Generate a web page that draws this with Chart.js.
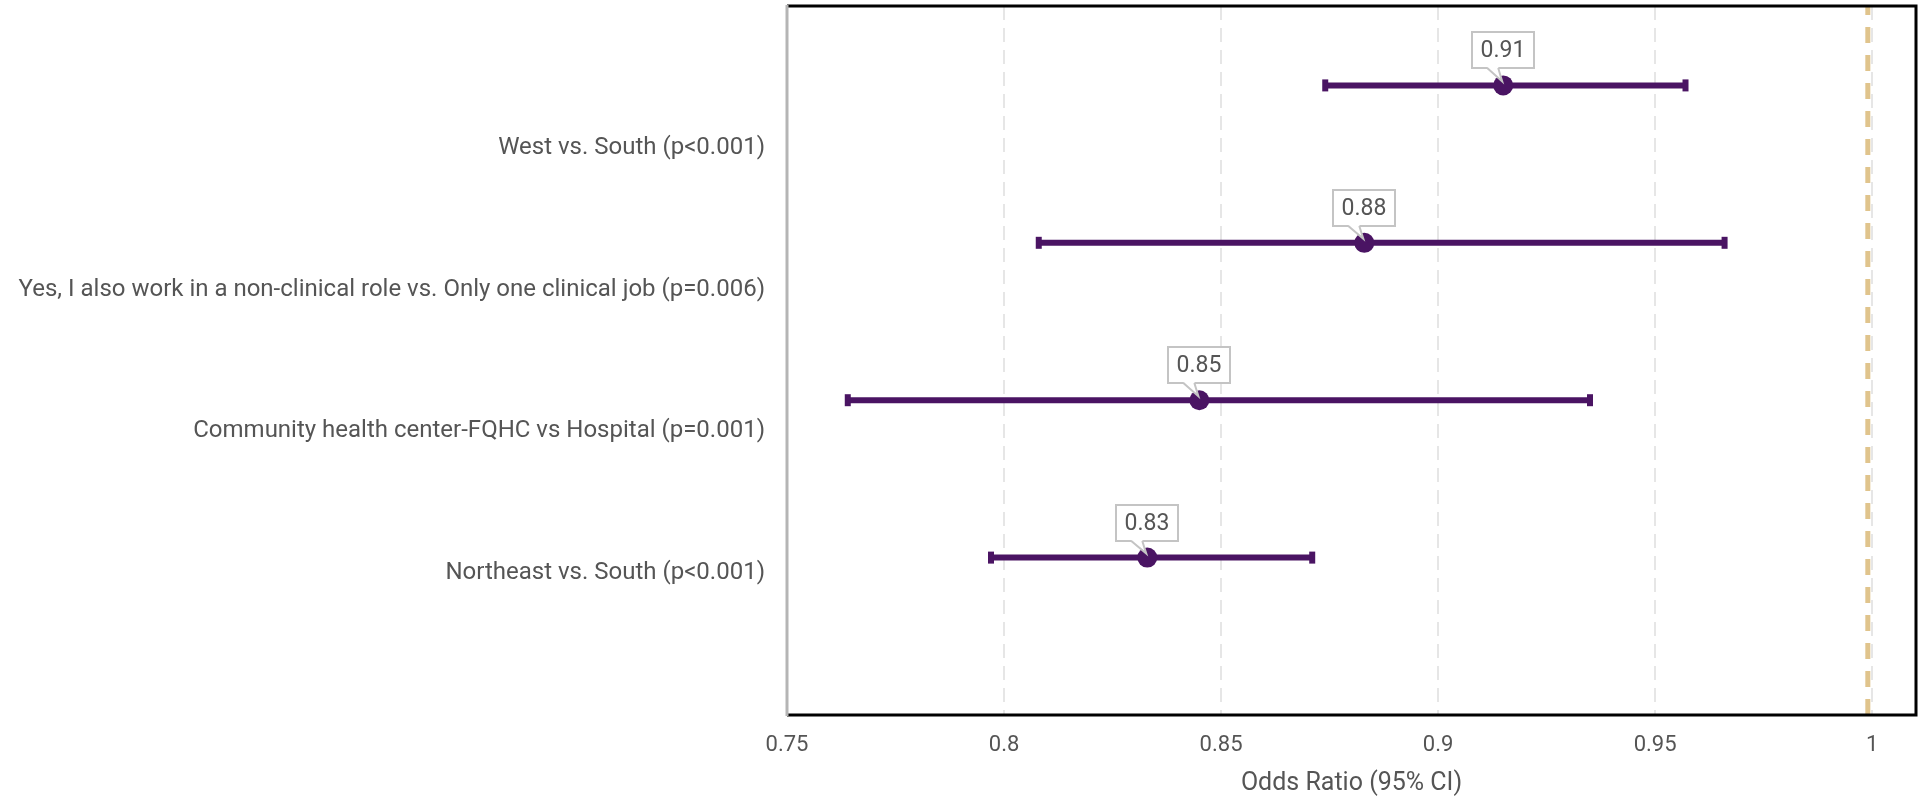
<!DOCTYPE html>
<html>
<head>
<meta charset="utf-8">
<script src="https://cdn.jsdelivr.net/npm/chart.js@4.4.1/dist/chart.umd.min.js"></script>
<style>
    html, body { margin: 0; padding: 0; background: #fff; }
    #wrap { width: 1921px; height: 799px; }
</style>
</head>
<body>
<div id="wrap"><canvas id="forestChart" width="1921" height="799"></canvas></div>
<script>
// rows, top to bottom
const categories = [
    'West vs. South (p<0.001)',
    'Yes, I also work in a non-clinical role vs. Only one clinical job (p=0.006)',
    'Community health center-FQHC vs Hospital (p=0.001)',
    'Northeast vs. South (p<0.001)'
];
const estimates = [0.915, 0.883, 0.845, 0.833];
const lowerCI = [0.874, 0.808, 0.764, 0.797];
const upperCI = [0.957, 0.966, 0.935, 0.871];
const estimateLabels = ['0.91', '0.88', '0.85', '0.83'];
// where the category labels sit and where each row's marks sit on the y scale
const labelPos = [4, 3, 2, 1];
const rowPos = [4.44, 3.33, 2.22, 1.11];
const xTicks = [0.75, 0.8, 0.85, 0.9, 0.95, 1];
const refValue = 0.999;

const purple = '#4a1463';
const textGrey = '#555555';

document.addEventListener('DOMContentLoaded', function() {
    // black panel frame, grey y-axis line on the left
    const framePlugin = {
        id: 'panelFrame',
        afterDatasetsDraw(chart) {
            const ctx = chart.ctx, a = chart.chartArea;
            ctx.save();
            ctx.strokeStyle = '#000';
            ctx.lineWidth = 3;
            ctx.beginPath();
            ctx.moveTo(a.left, a.top);
            ctx.lineTo(a.right, a.top);
            ctx.lineTo(a.right, a.bottom);
            ctx.lineTo(a.left, a.bottom);
            ctx.stroke();
            ctx.strokeStyle = '#b5b5b5';
            ctx.beginPath();
            ctx.moveTo(a.left, a.top - 1);
            ctx.lineTo(a.left, a.bottom + 1);
            ctx.stroke();
            ctx.restore();
        }
    };

    // value callouts above each estimate
    const calloutPlugin = {
        id: 'estimateCallouts',
        afterDraw(chart) {
            const ctx = chart.ctx, xs = chart.scales.x, ys = chart.scales.y;
            ctx.save();
            ctx.font = '23px Roboto';
            estimates.forEach(function(est, i) {
                const px = xs.getPixelForValue(est);
                const py = ys.getPixelForValue(rowPos[i]);
                const text = estimateLabels[i];
                const w = Math.round(ctx.measureText(text).width + 17);
                const h = 36;
                const left = Math.round(px - w / 2);
                const bottom = Math.round(py - 17);
                const top = bottom - h;
                ctx.fillStyle = '#fff';
                ctx.strokeStyle = '#c4c4c4';
                ctx.lineWidth = 2;
                ctx.beginPath();
                ctx.rect(left, top, w, h);
                ctx.fill();
                ctx.stroke();
                // tail
                ctx.beginPath();
                ctx.moveTo(px - 16, bottom - 1);
                ctx.lineTo(px - 1, py - 4);
                ctx.lineTo(px - 5, bottom - 1);
                ctx.closePath();
                ctx.fill();
                ctx.beginPath();
                ctx.moveTo(px - 16, bottom);
                ctx.lineTo(px - 1, py - 4);
                ctx.lineTo(px - 5, bottom);
                ctx.stroke();
                ctx.fillStyle = textGrey;
                ctx.textAlign = 'center';
                ctx.textBaseline = 'middle';
                ctx.fillText(text, left + w / 2, top + h / 2 + 1);
            });
            ctx.restore();
        }
    };

    const ciSets = categories.map(function(cat, i) {
        return {
            label: cat,
            data: [{x: lowerCI[i], y: rowPos[i]}, {x: upperCI[i], y: rowPos[i]}],
            showLine: true,
            borderColor: purple,
            borderWidth: 6,
            pointStyle: 'line',
            rotation: 90,
            pointRadius: 6,
            pointBorderWidth: 6,
            pointBorderColor: purple,
            order: 1
        };
    });

    const ctx = document.getElementById('forestChart');
    new Chart(ctx, {
        type: 'scatter',
        data: {
            datasets: [{
                label: 'Odds Ratio',
                data: estimates.map(function(v, i) { return {x: v, y: rowPos[i]}; }),
                backgroundColor: purple,
                borderColor: purple,
                borderWidth: 0,
                pointRadius: 10,
                order: 0
            }].concat(ciSets, [{
                label: 'Reference',
                data: [{x: refValue, y: 0}, {x: refValue, y: 5}],
                showLine: true,
                borderColor: '#e0c48c',
                borderWidth: 5,
                borderDash: [16, 12],
                pointRadius: 0,
                order: 2
            }])
        },
        options: {
            responsive: false,
            animation: false,
            layout: { autoPadding: false, padding: { top: 6, right: 5, left: 0, bottom: 0 } },
            plugins: {
                legend: { display: false },
                tooltip: { enabled: false }
            },
            scales: {
                x: {
                    type: 'linear',
                    min: 0.75,
                    max: 1.0101,
                    afterBuildTicks: function(s) { s.ticks = xTicks.map(function(v) { return {value: v}; }); },
                    afterFit: function(s) {
                        s.height = 84;
                        s.paddingLeft = 0;
                        s.paddingRight = 0;
                    },
                    grid: { color: '#e6e6e6', lineWidth: 2, drawTicks: false },
                    border: { display: false, dash: [14, 8] },
                    ticks: {
                        padding: 17,
                        color: textGrey,
                        font: { family: 'Roboto', size: 22 },
                        callback: function(v) { return String(+v.toFixed(2)); }
                    },
                    title: {
                        display: true,
                        text: 'Odds Ratio (95% CI)',
                        color: textGrey,
                        font: { family: 'Roboto', size: 25 },
                        padding: { top: 0, bottom: 0 }
                    }
                },
                y: {
                    type: 'linear',
                    min: 0,
                    max: 5,
                    afterBuildTicks: function(s) { s.ticks = labelPos.map(function(v) { return {value: v}; }); },
                    afterFit: function(s) {
                        s.width = 787;
                        s.paddingTop = 0;
                        s.paddingBottom = 0;
                    },
                    grid: { display: false, drawTicks: false },
                    border: { display: false },
                    ticks: {
                        padding: 22,
                        color: textGrey,
                        font: { family: 'Roboto', size: 24 },
                        callback: function(v) { return categories[labelPos.indexOf(v)]; }
                    }
                }
            }
        },
        plugins: [framePlugin, calloutPlugin]
    });
});
</script>
</body>
</html>
